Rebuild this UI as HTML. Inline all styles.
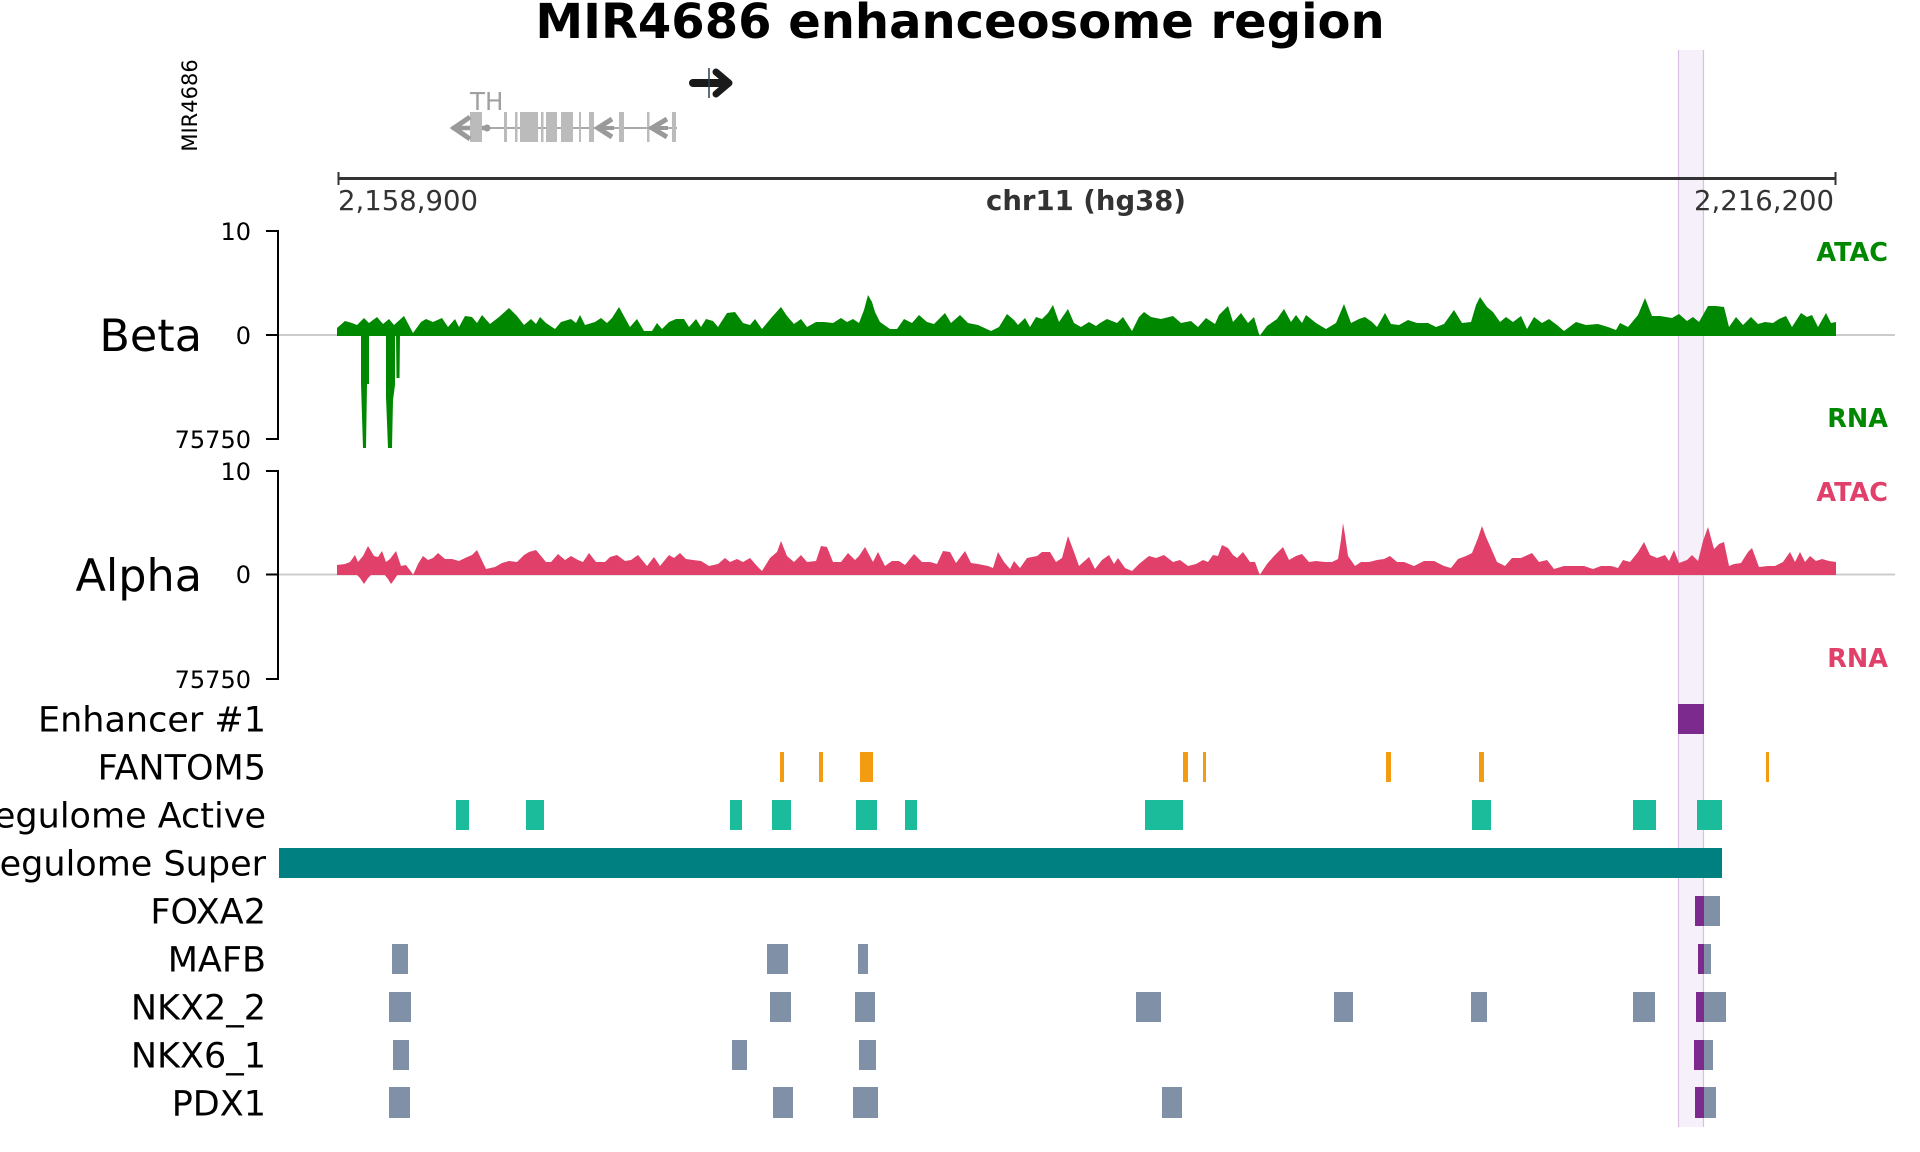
<!DOCTYPE html>
<html><head><meta charset="utf-8"><style>
html,body{margin:0;padding:0;background:#fff;}
svg{display:block;}
text{font-family:"DejaVu Sans","Liberation Sans",sans-serif;}
</style></head><body>
<svg xmlns="http://www.w3.org/2000/svg" width="1920" height="1152" viewBox="0 0 1920 1152">
<rect x="0" y="0" width="1920" height="1152" fill="#fff"/>
<!-- highlight band -->
<rect x="1678" y="50" width="26" height="1077" fill="#f5f0f9"/>
<line x1="1678.5" y1="50" x2="1678.5" y2="1127" stroke="#dcc0e4" stroke-width="1.2"/>
<line x1="1703.5" y1="50" x2="1703.5" y2="1127" stroke="#dcc0e4" stroke-width="1.2"/>

<!-- title -->
<text x="960" y="38" font-size="48" font-weight="bold" text-anchor="middle" fill="#000">MIR4686 enhanceosome region</text>

<!-- gene track -->
<text transform="translate(197,105.5) rotate(-90)" font-size="21" text-anchor="middle" fill="#000">MIR4686</text>
<text x="470" y="110" font-size="24.5" fill="#a0a0a0">TH</text>
<line x1="452" y1="128" x2="677" y2="128" stroke="#aaaaaa" stroke-width="2"/>
<line x1="452" y1="128" x2="487" y2="128" stroke="#9a9a9a" stroke-width="4.5"/>
<circle cx="487" cy="128" r="3.5" fill="#9a9a9a"/>
<g fill="#bbbbbb">
<rect x="470" y="112" width="12" height="30"/>
<rect x="504" y="112" width="3" height="30"/>
<rect x="515" y="112" width="2.5" height="30"/>
<rect x="520" y="112" width="18" height="30"/>
<rect x="541" y="112" width="2.5" height="30"/>
<rect x="546" y="112" width="11" height="30"/>
<rect x="561" y="112" width="12" height="30"/>
<rect x="579" y="112" width="2" height="30"/>
<rect x="589" y="112" width="5" height="30"/>
<rect x="619" y="112" width="5" height="30"/>
<rect x="647" y="112" width="2.5" height="30"/>
<rect x="672" y="112" width="4" height="30"/>
</g>
<g fill="none" stroke="#9a9a9a" stroke-width="5" stroke-linejoin="miter">
<polyline points="470,117 454,128 470,139"/>
<polyline points="612,119 598,128 612,137"/>
<polyline points="667,119 652,128 667,137"/>
</g>
<line x1="598" y1="128" x2="614" y2="128" stroke="#9a9a9a" stroke-width="4"/>
<line x1="652" y1="128" x2="668" y2="128" stroke="#9a9a9a" stroke-width="4"/>
<!-- MIR4686 arrow -->
<line x1="693" y1="83" x2="724" y2="83" stroke="#1a1a1a" stroke-width="8" stroke-linecap="round"/>
<polyline points="716,72 729,83 716,94" fill="none" stroke="#1a1a1a" stroke-width="7" stroke-linecap="round" stroke-linejoin="round"/>
<line x1="709" y1="68" x2="709" y2="98" stroke="#2c3e50" stroke-width="1.5"/>

<!-- scale bar -->
<line x1="338" y1="178.5" x2="1836" y2="178.5" stroke="#333" stroke-width="3"/>
<line x1="338.5" y1="172" x2="338.5" y2="185" stroke="#333" stroke-width="2"/>
<line x1="1835.5" y1="172" x2="1835.5" y2="185" stroke="#333" stroke-width="2"/>
<text x="338" y="210" font-size="27.5" fill="#333">2,158,900</text>
<text x="1086" y="210" font-size="27.5" font-weight="bold" text-anchor="middle" fill="#333">chr11 (hg38)</text>
<text x="1834" y="210" font-size="27.5" text-anchor="end" fill="#333">2,216,200</text>

<!-- Beta panel -->
<line x1="278" y1="335" x2="1895" y2="335" stroke="#cccccc" stroke-width="2"/>
<path fill="#008800" d="M337,336 L337,328 L345,321 L352,323 L357,325 L364,318 L369,323 L377,317 L383,324 L389,319 L394,325 L404,316 L413,333 L421,322 L426,319 L433,322 L442,318 L448,327 L455,319 L459,327 L465,316 L472,317 L477,323 L482,315 L490,324 L499,317 L509,308 L517,316 L524,325 L531,319 L536,324 L540,317 L546,323 L555,329 L561,322 L571,319 L576,323 L580,315 L585,325 L595,322 L601,318 L607,323 L612,318 L619,307 L625,318 L630,327 L637,319 L644,331 L652,331 L657,323 L662,329 L669,322 L676,319 L684,319 L689,327 L696,319 L701,327 L706,319 L713,321 L718,327 L727,313 L735,312 L743,323 L750,325 L755,319 L762,329 L772,317 L781,307 L787,316 L794,324 L801,319 L807,327 L816,322 L824,322 L833,323 L841,318 L847,322 L853,319 L859,323 L864,310 L868,295 L872,302 L875,312 L880,322 L890,329 L897,329 L904,319 L912,323 L919,315 L927,322 L934,324 L945,313 L951,323 L960,315 L968,323 L978,325 L991,331 L999,327 L1007,314 L1014,320 L1018,325 L1025,318 L1030,327 L1036,317 L1042,319 L1048,313 L1053,305 L1059,322 L1068,309 L1074,323 L1081,327 L1089,322 L1096,326 L1100,323 L1107,319 L1117,323 L1123,317 L1132,331 L1139,317 L1144,312 L1151,317 L1161,319 L1173,316 L1181,323 L1191,321 L1198,327 L1206,318 L1215,324 L1219,315 L1228,306 L1233,322 L1241,313 L1248,323 L1254,317 L1259,334 L1260,336 L1261,334 L1267,326 L1277,319 L1284,309 L1291,322 L1296,315 L1302,323 L1306,315 L1316,323 L1326,329 L1336,323 L1344,304 L1351,323 L1359,319 L1365,317 L1372,322 L1377,327 L1385,313 L1391,324 L1399,325 L1408,320 L1417,323 L1428,323 L1436,327 L1444,324 L1454,310 L1462,323 L1471,322 L1476,305 L1480,297 L1487,307 L1493,312 L1500,322 L1506,317 L1513,322 L1521,316 L1527,329 L1534,317 L1542,323 L1549,319 L1557,325 L1564,331 L1576,322 L1586,325 L1598,324 L1608,327 L1616,330 L1620,323 L1628,327 L1638,315 L1645,298 L1652,316 L1660,316 L1672,318 L1679,314 L1687,321 L1693,317 L1699,322 L1708,306 L1716,306 L1724,307 L1729,327 L1736,317 L1743,325 L1751,317 L1758,324 L1765,322 L1773,323 L1779,319 L1786,316 L1792,327 L1801,313 L1807,317 L1812,315 L1818,327 L1826,313 L1831,323 L1836,322 L1836,336 Z"/>
<!-- Beta RNA dips -->
<path fill="#008800" d="M361,335 L361,384 L363,448 L366,448 L367,384 L369,384 L369,335 Z"/>
<path fill="#008800" d="M386,335 L386,397 L388,448 L392,448 L393,400 L395,385 L395,335 Z"/>
<path fill="#008800" d="M396,335 L396.5,378 L399.5,378 L400,335 Z"/>
<!-- Beta axis -->
<line x1="278" y1="230" x2="278" y2="440" stroke="#000" stroke-width="2"/>
<line x1="266" y1="231" x2="278" y2="231" stroke="#000" stroke-width="2"/>
<line x1="266" y1="335" x2="278" y2="335" stroke="#000" stroke-width="2"/>
<line x1="266" y1="439" x2="278" y2="439" stroke="#000" stroke-width="2"/>
<text x="251" y="240" font-size="24" text-anchor="end">10</text>
<text x="251" y="344" font-size="24" text-anchor="end">0</text>
<text x="251" y="448" font-size="24" text-anchor="end">75750</text>
<text x="202" y="351" font-size="44.5" text-anchor="end">Beta</text>
<text x="1888" y="261" font-size="25.5" font-weight="bold" text-anchor="end" fill="#008800">ATAC</text>
<text x="1888" y="427" font-size="25.5" font-weight="bold" text-anchor="end" fill="#008800">RNA</text>

<!-- Alpha panel -->
<line x1="278" y1="574.5" x2="1895" y2="574.5" stroke="#cccccc" stroke-width="2"/>
<path fill="#e0406a" d="M337,575 L337,565 L345,564 L350,562 L355,555 L358,562 L363,556 L368,546 L374,556 L378,557 L382,551 L386,562 L390,559 L396,551 L401,566 L406,565 L412,573 L413,575 L414,573 L418,564 L423,556 L428,560 L433,558 L438,553 L445,559 L452,559 L459,561 L465,558 L472,555 L477,550 L486,569 L495,567 L502,563 L509,561 L517,562 L524,555 L529,552 L536,550 L546,562 L551,562 L558,554 L565,560 L571,556 L578,560 L583,562 L589,553 L596,562 L605,562 L610,557 L617,555 L625,561 L631,560 L638,555 L647,566 L654,557 L660,566 L669,555 L674,558 L680,553 L686,559 L693,560 L701,561 L709,566 L718,564 L725,558 L730,562 L737,559 L743,562 L750,558 L757,566 L762,571 L770,558 L777,552 L781,541 L787,556 L794,562 L801,555 L807,562 L816,561 L821,546 L827,547 L833,562 L841,562 L848,553 L855,560 L859,556 L865,547 L873,562 L878,552 L885,566 L892,561 L899,561 L905,565 L914,554 L922,562 L930,562 L937,564 L943,551 L950,552 L956,563 L965,551 L971,563 L978,564 L988,566 L993,568 L998,552 L1004,562 L1010,569 L1014,561 L1020,568 L1027,558 L1037,556 L1042,552 L1050,552 L1056,562 L1062,558 L1068,536 L1074,552 L1079,566 L1089,557 L1095,569 L1102,560 L1109,555 L1114,564 L1118,558 L1125,568 L1132,571 L1139,564 L1149,556 L1156,558 L1164,555 L1173,562 L1180,560 L1188,566 L1196,564 L1203,560 L1208,562 L1213,555 L1218,556 L1222,545 L1228,548 L1233,555 L1237,558 L1243,552 L1250,562 L1255,562 L1259,573 L1260,575 L1261,573 L1267,564 L1274,556 L1283,547 L1289,560 L1296,556 L1302,554 L1309,562 L1316,561 L1325,562 L1332,562 L1338,559 L1341,540 L1343,523 L1345,535 L1348,556 L1355,566 L1361,562 L1369,562 L1377,560 L1384,559 L1390,556 L1397,562 L1404,562 L1414,566 L1424,561 L1434,561 L1444,566 L1451,568 L1458,559 L1466,556 L1472,553 L1478,538 L1482,526 L1486,537 L1490,546 L1497,562 L1505,566 L1512,558 L1521,558 L1532,553 L1539,562 L1547,560 L1554,569 L1564,566 L1574,566 L1584,566 L1593,569 L1601,566 L1611,566 L1618,568 L1623,560 L1630,562 L1638,552 L1644,542 L1650,555 L1657,558 L1665,555 L1669,561 L1674,550 L1679,563 L1687,560 L1692,555 L1698,561 L1703,541 L1708,527 L1714,549 L1719,544 L1724,542 L1729,566 L1734,564 L1741,563 L1748,552 L1752,548 L1759,567 L1768,566 L1775,566 L1783,562 L1790,552 L1795,562 L1800,552 L1805,562 L1810,556 L1816,561 L1822,559 L1829,561 L1836,562 L1836,575 Z"/>
<path fill="#e0406a" d="M356,574 L360,578 L364,584 L368,578 L372,574 Z"/>
<path fill="#e0406a" d="M384,574 L388,579 L391,584 L394,580 L398,574 Z"/>
<!-- Alpha axis -->
<line x1="278" y1="470" x2="278" y2="680" stroke="#000" stroke-width="2"/>
<line x1="266" y1="471" x2="278" y2="471" stroke="#000" stroke-width="2"/>
<line x1="266" y1="574.5" x2="278" y2="574.5" stroke="#000" stroke-width="2"/>
<line x1="266" y1="679" x2="278" y2="679" stroke="#000" stroke-width="2"/>
<text x="251" y="480" font-size="24" text-anchor="end">10</text>
<text x="251" y="583" font-size="24" text-anchor="end">0</text>
<text x="251" y="688" font-size="24" text-anchor="end">75750</text>
<text x="202" y="591" font-size="44.5" text-anchor="end">Alpha</text>
<text x="1888" y="501" font-size="25.5" font-weight="bold" text-anchor="end" fill="#e0406a">ATAC</text>
<text x="1888" y="667" font-size="25.5" font-weight="bold" text-anchor="end" fill="#e0406a">RNA</text>

<!-- annotation row labels -->
<g font-size="35" text-anchor="end" fill="#000">
<text x="266" y="731.5">Enhancer #1</text>
<text x="266" y="779.5">FANTOM5</text>
<text x="266" y="827.5">Regulome Active</text>
<text x="266" y="875.5">Regulome Super</text>
<text x="266" y="923.5">FOXA2</text>
<text x="266" y="971.5">MAFB</text>
<text x="266" y="1019.5">NKX2_2</text>
<text x="266" y="1067.5">NKX6_1</text>
<text x="266" y="1115.5">PDX1</text>
</g>

<!-- Enhancer -->
<rect x="1678" y="704" width="26" height="30" fill="#7d2a8e"/>
<!-- FANTOM5 -->
<g fill="#f39c12">
<rect x="780" y="752" width="4" height="30"/>
<rect x="819" y="752" width="4" height="30"/>
<rect x="860" y="752" width="13" height="30"/>
<rect x="1183" y="752" width="5" height="30"/>
<rect x="1203" y="752" width="3" height="30"/>
<rect x="1386" y="752" width="5" height="30"/>
<rect x="1479" y="752" width="5" height="30"/>
<rect x="1766" y="752" width="3" height="30"/>
</g>
<!-- Regulome Active -->
<g fill="#1abc9c">
<rect x="456" y="800" width="13" height="30"/>
<rect x="526" y="800" width="18" height="30"/>
<rect x="730" y="800" width="12" height="30"/>
<rect x="772" y="800" width="19" height="30"/>
<rect x="856" y="800" width="21" height="30"/>
<rect x="905" y="800" width="12" height="30"/>
<rect x="1145" y="800" width="38" height="30"/>
<rect x="1472" y="800" width="19" height="30"/>
<rect x="1633" y="800" width="23" height="30"/>
<rect x="1697" y="800" width="25" height="30"/>
</g>
<!-- Regulome Super -->
<rect x="279" y="848" width="1443" height="30" fill="#008080"/>
<!-- TF rows -->
<g fill="#8090a6">
<rect x="1704" y="896" width="16" height="30"/>
<rect x="392" y="944" width="16" height="30"/>
<rect x="767" y="944" width="21" height="30"/>
<rect x="858" y="944" width="10" height="30"/>
<rect x="1704" y="944" width="7" height="30"/>
<rect x="389" y="992" width="22" height="30"/>
<rect x="770" y="992" width="21" height="30"/>
<rect x="855" y="992" width="20" height="30"/>
<rect x="1136" y="992" width="25" height="30"/>
<rect x="1334" y="992" width="19" height="30"/>
<rect x="1471" y="992" width="16" height="30"/>
<rect x="1633" y="992" width="22" height="30"/>
<rect x="1704" y="992" width="22" height="30"/>
<rect x="393" y="1040" width="16" height="30"/>
<rect x="732" y="1040" width="15" height="30"/>
<rect x="859" y="1040" width="17" height="30"/>
<rect x="1704" y="1040" width="9" height="30"/>
<rect x="389" y="1087" width="21" height="31"/>
<rect x="773" y="1087" width="20" height="31"/>
<rect x="853" y="1087" width="25" height="31"/>
<rect x="1162" y="1087" width="20" height="31"/>
<rect x="1704" y="1087" width="12" height="31"/>
</g>
<g fill="#7d2a8e">
<rect x="1695" y="896" width="9" height="30"/>
<rect x="1698" y="944" width="6" height="30"/>
<rect x="1696" y="992" width="8" height="30"/>
<rect x="1694" y="1040" width="10" height="30"/>
<rect x="1695" y="1087" width="9" height="31"/>
</g>
</svg>
</body></html>
